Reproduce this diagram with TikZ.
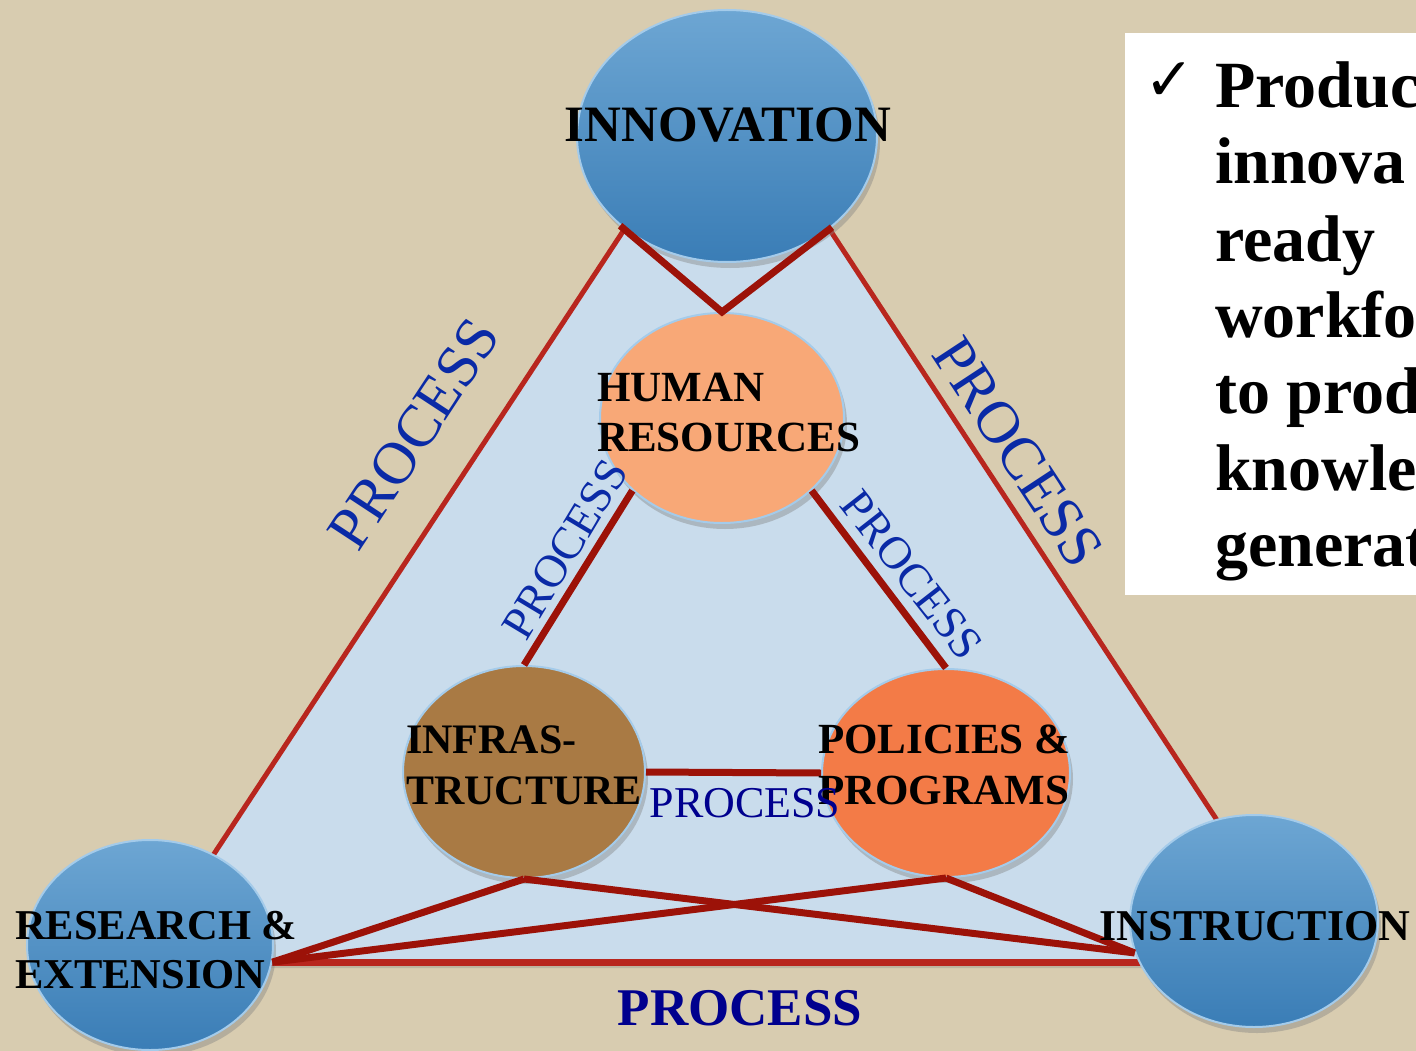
\documentclass[tikz,border=0pt]{standalone}
\usepackage{fontspec}
\setmainfont{Liberation Serif}
\newfontfamily\symfont{DejaVu Sans}
\usetikzlibrary{shapes.geometric,shadows}
\definecolor{bg}{HTML}{D8CCB0}
\definecolor{trifill}{HTML}{C9DCEC}
\definecolor{triedge}{HTML}{B8261E}
\definecolor{link}{HTML}{9C1208}
\definecolor{bluetop}{HTML}{6DA6D3}
\definecolor{bluebot}{HTML}{3A7DB6}
\definecolor{blueedge}{HTML}{A4CBEA}
\definecolor{hrcol}{HTML}{F8A877}
\definecolor{infcol}{HTML}{A97A44}
\definecolor{polcol}{HTML}{F37B47}
\definecolor{procblue}{HTML}{0A2AA6}
\definecolor{darkblue}{HTML}{00008E}
\tikzset{
  oval/.style={ellipse, inner sep=0pt, draw=blueedge, line width=2pt,
    drop shadow={opacity=0.4, shadow xshift=3pt, shadow yshift=-6pt}},
  bluebubble/.style={oval, top color=bluetop, bottom color=bluebot},
  lbl/.style={inner sep=0pt, text=black},
  proc/.style={inner sep=0pt, text=procblue},
  linkline/.style={draw=link, line width=7pt},
  boxtext/.style={inner sep=0pt, anchor=base west, font=\fontsize{66}{76}\selectfont\bfseries}
}
\begin{document}
\begin{tikzpicture}[x=1pt,y=-1pt]
\useasboundingbox (0,0) rectangle (1416,1051);
\fill[bg] (0,0) rectangle (1416,1051);

% big triangle
\coordinate (tA) at (727,73);
\coordinate (tB) at (143,962);
\coordinate (tC) at (1310,962);
\path[fill=trifill, draw=triedge, line width=5pt, line join=round,
  drop shadow={opacity=0.3, shadow xshift=2pt, shadow yshift=-6pt}]
  (tA) -- (tB) -- (tC) -- cycle;
\draw[triedge, line width=7pt] (tB) -- (tC);

% bubbles
\node[bluebubble, minimum width=300pt, minimum height=252pt] (inno) at (727,136) {};
\node[oval, fill=hrcol, minimum width=244pt, minimum height=210pt] (hr) at (722,418) {};
\node[oval, fill=infcol, minimum width=242pt, minimum height=212pt] (inf) at (524,772) {};
\node[oval, fill=polcol, minimum width=248pt, minimum height=208pt] (pol) at (946,773) {};
\node[bluebubble, minimum width=246pt, minimum height=210pt] (res) at (150,945) {};
\node[bluebubble, minimum width=248pt, minimum height=212pt] (ins) at (1254,921) {};

% connectors
\draw[linkline, line join=miter] (inno.220.6) -- (hr.north) -- (inno.319.4);
\draw[linkline] (hr.219) -- (inf.north);
\draw[linkline] (hr.321) -- (pol.north);
\draw[linkline] (inf.east) -- (pol.west);
\draw[linkline] (res.-8) -- (inf.south);
\draw[linkline] (res.-8) -- (pol.south);
\draw[linkline] (ins.195) -- (inf.south);
\draw[linkline] (ins.195) -- (pol.south);

% labels
\node[lbl, font=\fontsize{51}{56}\selectfont\bfseries] (tInno) at (728,125) {INNOVATION};
\node[lbl, anchor=west, align=left, font=\fontsize{43}{50}\selectfont\bfseries] (tHR) at (597,413) {HUMAN\\RESOURCES};
\node[lbl, anchor=west, align=left, font=\fontsize{42}{51}\selectfont\bfseries] (tInf) at (406,765) {INFRAS-\\TRUCTURE};
\node[lbl, anchor=west, align=left, font=\fontsize{43}{51}\selectfont\bfseries] (tPol) at (818,765) {POLICIES \&\\PROGRAMS};
\node[lbl, anchor=west, align=left, font=\fontsize{42.5}{49}\selectfont\bfseries] (tRes) at (15,950) {RESEARCH \&\\EXTENSION};
\node[lbl, font=\fontsize{44}{50}\selectfont\bfseries] (tIns) at (1255,926) {INSTRUCTION};

% PROCESS labels
\node[proc, font=\fontsize{60}{60}\selectfont, rotate=56.7] (pL) at (414,434) {PROCESS};
\node[proc, font=\fontsize{60}{60}\selectfont, rotate=-56.7] (pR) at (1018,452) {PROCESS};
\node[proc, font=\fontsize{46}{46}\selectfont, rotate=59] (pIL) at (565,549) {PROCESS};
\node[proc, font=\fontsize{46}{46}\selectfont, rotate=-52] (pIR) at (912,575) {PROCESS};
\node[proc, text=darkblue, font=\fontsize{44}{44}\selectfont] (pM) at (745,803) {PROCESS};
\node[proc, text=darkblue, font=\fontsize{53}{53}\selectfont\bfseries] (pB) at (740,1008) {PROCESS};

% right text box
\begin{scope}
\clip (1125,33) rectangle (1416,595);
\fill[white] (1125,33) rectangle (1420,595);
\node[inner sep=0pt, anchor=base west, font=\symfont\fontsize{60}{60}\selectfont] (chk) at (1144,101) {✓};
\node[boxtext] (l1) at (1215,108) {Produc};
\node[boxtext] (l2) at (1215,184) {innova};
\node[boxtext] (l3) at (1215,261) {ready};
\node[boxtext] (l4) at (1215,337) {workfo};
\node[boxtext] (l5) at (1215,413) {to prod};
\node[boxtext] (l6) at (1215,490) {knowle};
\node[boxtext] (l7) at (1215,566) {generat};
\end{scope}
\end{tikzpicture}
\end{document}
